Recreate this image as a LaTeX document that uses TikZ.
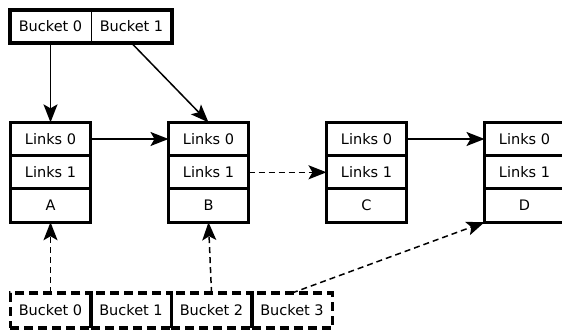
\documentclass[tikz,border=0pt]{standalone}
\usepackage{fontspec}
\setmainfont{DejaVu Sans}
\usetikzlibrary{arrows.meta,positioning}
\tikzset{
  cell/.style={rectangle, draw, line width=3pt, minimum width=80pt, minimum height=33.3pt, inner sep=0pt, outer sep=0pt, font=\fontsize{14.5}{16}\selectfont},
  bucket/.style={cell, line width=1pt, minimum width=81pt, minimum height=33pt},
  dbucket/.style={cell, line width=3.5pt, dash pattern=on 9pt off 5pt, minimum width=80.5pt, minimum height=35pt},
  arrow/.style={-{Stealth[length=18pt, width=14pt, inset=4pt]}, line width=1.5pt},
  dasharrow/.style={arrow, dash pattern=on 6pt off 4pt},
}
\begin{document}
\begin{tikzpicture}[x=1pt, y=-1pt]
  \useasboundingbox (0,0) rectangle (562,331);
  \clip (0,0) rectangle (562,331);

  % top buckets
  \node[bucket] (top0) at (50.5,26.5) {Bucket 0};
  \node[bucket, right=0pt of top0] (top1) {Bucket 1};
  \draw[line width=4pt] (top0.north west) rectangle (top1.south east);

  % entries
  \foreach \n/\x in {A/50.5,B/208.5,C/366.5,D/524.5} {
    \node[cell] (\n1) at (\x,139) {Links 0};
    \node[cell, below=0pt of \n1] (\n2) {Links 1};
    \node[cell, below=0pt of \n2] (\n3) {\n};
  }

  % bottom buckets
  \node[dbucket] (bot0) at (50.5,310.5) {Bucket 0};
  \node[dbucket, right=0pt of bot0] (bot1) {Bucket 1};
  \node[dbucket, right=0pt of bot1] (bot2) {Bucket 2};
  \node[dbucket, right=0pt of bot2] (bot3) {Bucket 3};

  % links
  \draw[arrow] (top0.south) -- (A1.north);
  \draw[arrow] (top1.south) -- (B1.north);
  \draw[arrow] (A1.east) -- (B1.west);
  \draw[dasharrow] (B2.east) -- (C2.west);
  \draw[arrow] (C1.east) -- (D1.west);
  \draw[dasharrow] (bot0.north) -- (A3.south);
  \draw[dasharrow] (bot2.north) -- (B3.south);
  \draw[dasharrow] (bot3.north) -- (D3.south west);
\end{tikzpicture}
\end{document}
